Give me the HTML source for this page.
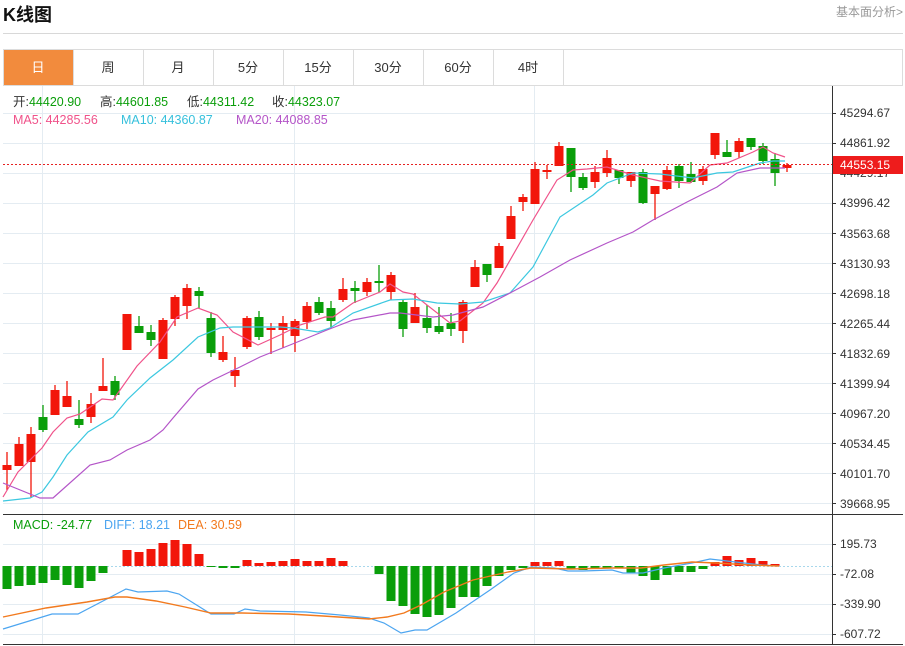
<!DOCTYPE html>
<html><head><meta charset="utf-8"><style>
body{margin:0;background:#fff;width:905px;height:646px;overflow:hidden;font-family:"Liberation Sans","Noto Sans CJK SC",sans-serif;}
svg{position:absolute;left:0;top:0}
</style></head><body>
<svg width="905" height="646" id="s" xmlns="http://www.w3.org/2000/svg" font-family="Liberation Sans, Noto Sans CJK SC, sans-serif">
<text x="3" y="21" font-size="18" font-weight="bold" fill="#111">K线图</text>
<text x="903" y="16" font-size="12" fill="#999" text-anchor="end">基本面分析&gt;</text>
<line x1="3" y1="33.5" x2="903" y2="33.5" stroke="#d8d8d8"/>
<rect x="3.5" y="49.5" width="899" height="36" fill="#fff" stroke="#dcdcdc"/>
<rect x="3.5" y="49.5" width="70" height="36" fill="#f28b3d" stroke="#dcdcdc"/>
<g stroke="#dcdcdc"><line x1="143.5" y1="50" x2="143.5" y2="85"/><line x1="213.5" y1="50" x2="213.5" y2="85"/><line x1="283.5" y1="50" x2="283.5" y2="85"/><line x1="353.5" y1="50" x2="353.5" y2="85"/><line x1="423.5" y1="50" x2="423.5" y2="85"/><line x1="493.5" y1="50" x2="493.5" y2="85"/><line x1="563.5" y1="50" x2="563.5" y2="85"/></g>
<g font-size="13" text-anchor="middle" fill="#333"><text x="38" y="72" fill="#fff">日</text><text x="108" y="72">周</text><text x="178" y="72">月</text><text x="248" y="72">5分</text><text x="318" y="72">15分</text><text x="388" y="72">30分</text><text x="458" y="72">60分</text><text x="528" y="72">4时</text></g>
<g id="grid" stroke="#e4ecf2"></g>
<line x1="832.5" y1="86" x2="832.5" y2="645" stroke="#333"/>
<line x1="3" y1="514.5" x2="903" y2="514.5" stroke="#333"/>
<line x1="3" y1="644.5" x2="903" y2="644.5" stroke="#333"/>
<line x1="3" y1="566.5" x2="832" y2="566.5" stroke="#a8d8ec" stroke-dasharray="2,2"/>
<g id="chart"></g>
<line x1="3" y1="164.5" x2="832" y2="164.5" stroke="#e52020" stroke-dasharray="2,2"/>
<g font-size="12" fill="#333" id="ylab">
<text x="840" y="117">45294.67</text><text x="840" y="147">44861.92</text><text x="840" y="177">44429.17</text><text x="840" y="207">43996.42</text><text x="840" y="238">43563.68</text><text x="840" y="268">43130.93</text><text x="840" y="298">42698.18</text><text x="840" y="328">42265.44</text><text x="840" y="358">41832.69</text><text x="840" y="388">41399.94</text><text x="840" y="418">40967.20</text><text x="840" y="448">40534.45</text><text x="840" y="478">40101.70</text><text x="840" y="508">39668.95</text>
<text x="840" y="548">195.73</text><text x="840" y="578">-72.08</text><text x="840" y="608">-339.90</text><text x="840" y="638">-607.72</text>
</g>
<rect x="833" y="156" width="70" height="18" fill="#ee1c1c"/>
<text x="840" y="169" font-size="12" fill="#fff">44553.15</text>
<g font-size="12.5">
<text x="13" y="106" fill="#333">开:<tspan fill="#0a9e0a">44420.90</tspan></text>
<text x="100" y="106" fill="#333">高:<tspan fill="#0a9e0a">44601.85</tspan></text>
<text x="187" y="106" fill="#333">低:<tspan fill="#0a9e0a">44311.42</tspan></text>
<text x="272" y="106" fill="#333">收:<tspan fill="#0a9e0a">44323.07</tspan></text>
<text x="13" y="124" fill="#f0528a">MA5: 44285.56</text>
<text x="121" y="124" fill="#36c0dc">MA10: 44360.87</text>
<text x="236" y="124" fill="#b455c8">MA20: 44088.85</text>
<text x="13" y="529" fill="#0a9e0a">MACD: -24.77</text>
<text x="104" y="529" fill="#4ca5f0">DIFF: 18.21</text>
<text x="178" y="529" fill="#f27a1e">DEA: 30.59</text>
</g>
</svg>
<script>
var NS="http://www.w3.org/2000/svg";
function el(p,t,a){var e=document.createElementNS(NS,t);for(var k in a)e.setAttribute(k,a[k]);p.appendChild(e);return e;}
var g=document.getElementById('grid');
for(var i=0;i<14;i++){var y=113.5+i*30;el(g,'line',{x1:3,y1:y,x2:832,y2:y});}
[544.5,574.5,604.5,634.5].forEach(function(y){el(g,'line',{x1:3,y1:y,x2:832,y2:y});});
[42.5,294.5,534.5].forEach(function(x){el(g,'line',{x1:x,y1:86,x2:x,y2:644});});
var c=document.getElementById('chart');
var ctick=el(c,'g',{stroke:'#333'});
for(var i=0;i<14;i++){el(ctick,'line',{x1:832,y1:113.5+i*30,x2:836,y2:113.5+i*30});}
[544.5,574.5,604.5,634.5].forEach(function(y){el(ctick,'line',{x1:832,y1:y,x2:836,y2:y});});
var K=[[465,470,452,490,1],[444,466,437,466,1],[434,462,427,498,1],[417,430,405,432,0],[390,415,385,415,1],[396,407,381,407,1],[419,425,400,428,0],[404,417,393,423,1],[386,391,358,391,1],[381,395,376,400,0],
[314,350,314,350,1],[326,333,316,333,0],[332,340,325,346,0],[320,359,318,359,1],[297,319,295,326,1],[288,306,284,319,1],[291,296,287,308,0],[318,353,312,357,0],[352,360,336,362,1],[370,376,357,387,1],
[318,347,316,349,1],[317,337,311,340,0],[328,330,323,354,1],[323,330,316,348,1],[321,336,319,352,1],[306,322,302,329,1],[302,313,297,315,0],[308,321,301,328,0],[289,300,278,302,1],[288,291,281,303,0],
[282,292,278,296,1],[281,283,265,292,0],[275,292,272,300,1],[302,329,300,337,0],[307,323,293,323,1],[318,328,305,333,0],[326,332,307,334,0],[323,329,313,336,0],[302,331,300,343,1],[267,287,260,287,1],
[264,275,264,282,0],[246,268,243,268,1],[216,239,206,239,1],[197,202,194,211,1],[169,204,162,204,1],[170,172,165,179,1],[146,166,142,166,1],[148,177,148,192,0],[177,188,173,190,0],[172,182,166,188,1],
[158,173,150,177,1],[170,178,170,184,0],[172,181,172,187,1],[172,203,169,204,0],[186,194,186,220,1],[170,189,166,190,1],[166,181,164,188,0],[174,182,162,183,0],[169,181,166,185,1],[133,155,133,159,1],
[152,157,140,157,0],[141,152,138,158,1],[138,147,138,150,0],[146,161,143,164,0],[159,173,153,186,0],[165,168,163,172,1]];
var R='#f2160a',G='#0a9e0a';
K.forEach(function(k,i){var x=7+i*12;var col=k[4]?R:G;
el(c,'line',{x1:x,y1:k[2],x2:x,y2:k[3],stroke:col,'stroke-width':1.3});
el(c,'rect',{x:x-4.5,y:k[0],width:9,height:Math.max(2,k[1]-k[0]),fill:col});});
var M=[0,0,0,0,0,0,0,0,0,0,
-16,-14,-17,-23,-26,-22,-12,1,2,2,
-6,-3,-4,-5,-7,-5,-5,-8,-5,0,
0,8,35,40,48,51,49,42,31,31,
20,10,4,2,-4,-4,-5,3,4,2,
2,2,7,10,14,9,6,6,3,-4,
-10,-6,-8,-5,-2,0];
M.forEach(function(v,i){if(!v)return;var x=7+i*12;var y0=566;
el(c,'rect',{x:x-4.5,y:v<0?y0+v:y0,width:9,height:Math.abs(v),fill:v<0?R:G});});
var first=[23,20,19,17,14,19,22,15,7];
first.forEach(function(v,i){var x=7+i*12;el(c,'rect',{x:x-4.5,y:566,width:9,height:v,fill:G});});
function pl(pts,col,w){el(c,'polyline',{points:pts,fill:'none',stroke:col,'stroke-width':w||1.2});}
pl("3,497 18,472 42,448 53,432 67,418 80,414 102,399 113,400 137,366 160,342 177,317 198,308 217,315 233,332 258,345 280,335 300,325 325,317 333,317 353,303 380,292 390,284 403,292 413,294 450,323 460,321 483,303 497,283 533,220 557,180 573,170 587,169 607,167 633,175 660,181 690,183 710,165 727,163 753,152 763,147 773,153 785,157",'#f0528a');
pl("3,501 30,498 42,492 53,477 67,455 88,432 113,417 127,400 150,378 173,360 198,337 220,328 233,327 280,327 293,328 318,332 330,328 353,313 390,300 413,299 437,303 460,304 483,302 510,293 533,267 560,217 593,195 607,183 633,173 660,174 693,178 717,173 733,172 760,163 773,161 785,161",'#3cc8e0');
pl("3,483 40,498 53,498 90,465 110,460 127,450 150,440 163,430 173,418 198,389 213,380 240,367 260,357 290,345 327,330 353,320 390,313 400,313 433,317 453,315 483,307 510,293 540,277 570,260 607,243 633,232 653,220 687,202 717,187 737,173 760,168 785,168",'#b455c8');
pl("3,629 52,614 78,614 126,589 138,592 167,591 179,594 211,614 234,614 245,609 260,611 306,612 340,615 369,618 384,623 401,633 415,630 427,630 456,613 490,590 514,573 531,567 554,568 568,571 583,571 612,570 623,573 643,573 664,568 692,563 710,559 727,561 744,563 762,565 779,566",'#4ca5f0');
pl("3,617 46,608 87,602 115,597 127,597 156,601 185,607 211,613 242,613 289,614 323,616 369,619 387,617 404,613 421,605 444,592 473,580 508,572 531,568 571,569 612,568 641,568 664,565 692,562 716,563 750,565 779,566",'#f27a1e',1.4);
</script>
</body></html>
